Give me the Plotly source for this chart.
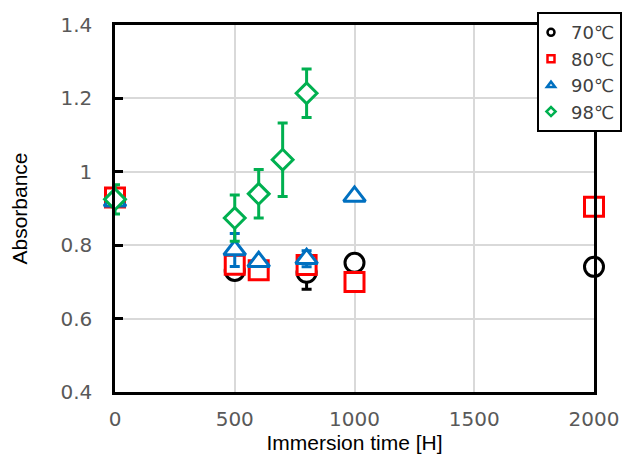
import plotly.graph_objects as go

# Data
x70 = [0, 500, 800, 1000, 2000]
y70 = [0.93, 0.73, 0.725, 0.752, 0.741]
e70 = [0.0, 0.0, 0.045, 0.0, 0.0]

x80 = [0, 500, 600, 800, 1000, 2000]
y80 = [0.93, 0.747, 0.732, 0.746, 0.70, 0.905]
e80 = [0.0, 0.0, 0.0, 0.0, 0.0, 0.0]

x90 = [0, 500, 600, 800, 1000]
y90 = [0.92, 0.787, 0.755, 0.763, 0.933]
e90 = [0.0, 0.045, 0.0, 0.022, 0.0]

x98 = [0, 500, 600, 700, 800]
y98 = [0.925, 0.874, 0.940, 1.033, 1.214]
e98 = [0.04, 0.063, 0.066, 0.10, 0.066]

names = ["70℃", "80℃", "90℃", "98℃"]
colors = ["#000000", "#FF0000", "#0070C0", "#00B050"]
symbols = ["circle", "square", "triangle-up", "diamond"]
sizes = [19, 19, 19, 16]

TICKFONT = "DejaVu Sans"
TITLEFONT = "Liberation Sans"

fig = go.Figure()
series = [(x70, y70, e70), (x80, y80, e80), (x90, y90, e90), (x98, y98, e98)]
for i, (xs, ys, es) in enumerate(series):
    fig.add_trace(go.Scatter(
        x=xs, y=ys, mode="markers", showlegend=False, cliponaxis=False,
        marker=dict(symbol=symbols[i], size=sizes[i],
                    color="white", line=dict(color=colors[i], width=3)),
        error_y=dict(type="data", array=es, visible=True, color=colors[i],
                     thickness=3, width=5),
    ))
# legend entries with small markers
for i in range(4):
    fig.add_trace(go.Scatter(
        x=[None], y=[None], mode="markers", name=names[i],
        marker=dict(symbol=symbols[i], size=7,
                    color="white", line=dict(color=colors[i], width=2.5)),
    ))

fig.update_layout(
    width=623, height=455,
    margin=dict(l=115, r=29, t=25, b=63, autoexpand=False),
    paper_bgcolor="white", plot_bgcolor="white",
    font=dict(family=TICKFONT, size=20, color="#595959"),
    xaxis=dict(range=[0, 2000], tickvals=[0, 500, 1000, 1500, 2000],
               showgrid=True, gridcolor="#D9D9D9", gridwidth=2,
               showline=True, linecolor="black", linewidth=2.5, mirror=True,
               ticks="", zeroline=False, ticklabelstandoff=7,
               title=dict(text="Immersion time [H]",
                          font=dict(family=TITLEFONT, size=21, color="black"), standoff=4)),
    yaxis=dict(range=[0.4, 1.4], tickvals=[0.4, 0.6, 0.8, 1.0, 1.2, 1.4],
               ticktext=["0.4", "0.6", "0.8", "1", "1.2", "1.4"],
               showgrid=True, gridcolor="#D9D9D9", gridwidth=2,
               showline=True, linecolor="black", linewidth=2.5, mirror=True,
               ticks="inside", ticklen=8, tickwidth=2.5, tickcolor="black",
               zeroline=False, ticklabelstandoff=16,
               title=dict(text="Absorbance",
                          font=dict(family=TITLEFONT, size=21, color="black"), standoff=28)),
    legend=dict(x=0.881, y=1.035, xanchor="left", yanchor="top",
                bgcolor="white", bordercolor="black", borderwidth=2,
                font=dict(family=TICKFONT, size=18, color="#404040"), tracegroupgap=0,
                itemwidth=30, indentation=-8),
)

fig.write_html("out.html")
